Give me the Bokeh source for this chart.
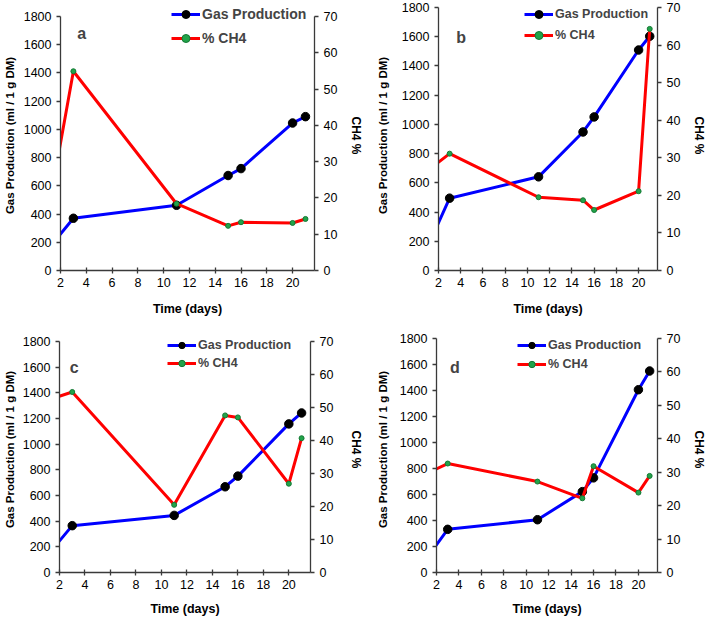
from bokeh.plotting import figure
from bokeh.models import Range1d, LinearAxis, Legend, LegendItem, Label, FixedTicker, ColumnDataSource
from bokeh.layouts import column, row
from bokeh.embed import file_html
from bokeh.resources import INLINE

days = [1, 3, 11, 15, 16, 20, 21]

gas_a = [146, 370, 462, 673, 722, 1045, 1090]
ch4_a = [15.3, 54.9, 18.4, 12.3, 13.3, 13.1, 14.2]

gas_b = [159, 495, 641, 948, 1051, 1509, 1603]
ch4_b = [26.5, 31.1, 19.5, 18.7, 16.1, 21.1, 64.3]

gas_c = [127, 365, 445, 668, 751, 1158, 1243]
ch4_c = [52.1, 54.7, 20.5, 47.6, 47.0, 26.9, 40.7]

gas_d = [94, 332, 406, 622, 728, 1406, 1550]
ch4_d = [29.4, 32.6, 27.2, 22.2, 31.8, 23.9, 28.9]

x_ticks = [2, 4, 6, 8, 10, 12, 14, 16, 18, 20]
gas_ticks = [0, 200, 400, 600, 800, 1000, 1200, 1400, 1600, 1800]
ch4_ticks = [0, 10, 20, 30, 40, 50, 60, 70]
GAS_MAX = 1800
CH4_MAX = 70

FONT = "Liberation Sans"
AXC = "#3a3a3a"


def style_axis(ax, label, label_size, label_standoff, tick_in=0, tick_out=4,
               major_standoff=5):
    ax.axis_label = label
    ax.axis_label_text_font = FONT
    ax.axis_label_text_font_style = "bold"
    ax.axis_label_text_font_size = label_size
    ax.axis_label_standoff = label_standoff
    ax.axis_label_text_color = "black"
    ax.major_label_text_font = FONT
    ax.major_label_text_font_size = "12.5px"
    ax.major_label_text_color = "black"
    ax.major_label_standoff = major_standoff
    ax.axis_line_color = AXC
    ax.axis_line_width = 1.3
    ax.major_tick_line_color = AXC
    ax.major_tick_line_width = 1.3
    ax.major_tick_out = tick_out
    ax.major_tick_in = tick_in
    ax.minor_tick_line_color = None


def panel(letter, gas, ch4, width, height, borders, axis_top_px,
          legend_loc, legend_rows, legend_font, letter_xy, standoffs):
    bl, br, bt, bb = borders
    ls, rs, xs = standoffs
    frame_h = height - bt - bb
    # frame is taller than the value axes so the legend fits inside it
    f = frame_h / (frame_h - (axis_top_px - bt))
    p = figure(width=width, height=height, output_backend="svg",
               toolbar_location=None, x_range=Range1d(2, 21.7),
               y_range=Range1d(0, GAS_MAX * f), min_border_left=bl,
               min_border_right=br, min_border_top=bt, min_border_bottom=bb)
    p.extra_y_ranges = {"ch4": Range1d(0, CH4_MAX * f)}
    p.xgrid.visible = False
    p.ygrid.visible = False
    p.outline_line_color = None
    p.background_fill_color = "white"

    style_axis(p.xaxis[0], "Time (days)", "12.5px", xs, tick_in=3, tick_out=3,
               major_standoff=4)
    p.xaxis[0].ticker = FixedTicker(ticks=x_ticks)
    style_axis(p.yaxis[0], "Gas Production (ml / 1 g DM)", "11.5px", ls)
    p.yaxis[0].ticker = FixedTicker(ticks=gas_ticks)
    p.yaxis[0].bounds = (0, GAS_MAX)

    rax = LinearAxis(y_range_name="ch4")
    style_axis(rax, "CH4 %", "12px", rs)
    rax.ticker = FixedTicker(ticks=ch4_ticks)
    rax.bounds = (0, CH4_MAX)
    p.add_layout(rax, "right")

    src = ColumnDataSource(dict(x=days, gas=gas, ch4=ch4))
    gl = p.line("x", "gas", source=src, line_color="#0000FF", line_width=3)
    gm = p.scatter("x", "gas", source=src, size=8.5, fill_color="black",
                   line_color="black")
    cl = p.line("x", "ch4", source=src, line_color="#FF0000", line_width=3,
                y_range_name="ch4")
    cm = p.scatter("x", "ch4", source=src, size=5, fill_color="#22a34a",
                   line_color="#157a35", y_range_name="ch4")

    gh, sp = legend_rows
    legend = Legend(items=[LegendItem(label="Gas Production", renderers=[gl, gm]),
                           LegendItem(label="% CH4", renderers=[cl, cm])],
                    location=legend_loc, padding=0, margin=0, spacing=sp,
                    glyph_width=29, glyph_height=gh, label_height=gh,
                    label_standoff=2, border_line_color=None,
                    background_fill_alpha=0,
                    label_text_font=FONT, label_text_font_style="bold",
                    label_text_font_size=legend_font)
    p.add_layout(legend)

    lx, ly = letter_xy
    p.add_layout(Label(x=lx, y=ly, text=letter, text_font=FONT,
                       text_font_style="bold", text_font_size="16px",
                       text_baseline="middle"))
    return p


# borders: left, right, top, bottom (same top/bottom within a row);
# axis_top_px: where the 1800 / 70 end of the value axes sits in the figure
pa = panel("a", gas_a, ch4_a, 366, 318, (60, 51, 0, 47), 16, (111, 222),
           (20, 4), "14px", (3.3, 1680), (5, 9, 12))
pb = panel("b", gas_b, ch4_b, 343, 318, (72, 48, 0, 47), 7, (86, 225),
           (20, 1), "12.5px", (3.6, 1594), (10, 9, 12))
pc = panel("c", gas_c, ch4_c, 366, 300, (59, 55, 8, 46), 23, (108, 201),
           (16, 2), "12.5px", (2.8, 1598), (4, 13, 10))
pd = panel("d", gas_d, ch4_d, 343, 300, (70, 48, 8, 46), 20, (81, 200),
           (16, 3), "12.5px", (3.2, 1577), (8, 9, 10))

layout = column(row(pa, pb), row(pc, pd))

with open("out.html", "w") as f:
    f.write(file_html(layout, INLINE))
